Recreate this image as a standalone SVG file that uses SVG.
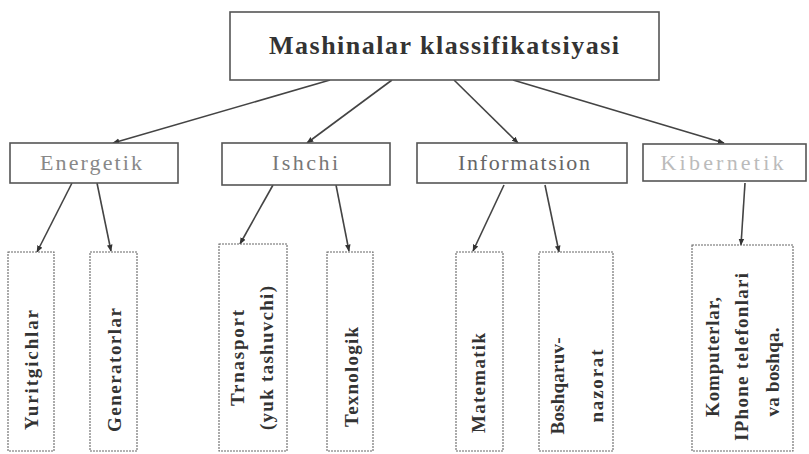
<svg xmlns="http://www.w3.org/2000/svg" width="809" height="454" viewBox="0 0 809 454">
<style>
.bx{fill:#fff;stroke:#555;stroke-width:1.6}
.lf{fill:#fff;stroke:#666;stroke-width:1.1;stroke-dasharray:2 1}
.t{font-family:"Liberation Serif","Times New Roman",serif;text-anchor:middle}
.ttl{font-size:26px;font-weight:bold;fill:#333}
.mid{font-size:22px}
.v{font-size:19px;font-weight:bold;fill:#333}
.c{stroke:#444;stroke-width:1.6;fill:none;marker-end:url(#ah)}
</style>
<defs>
<marker id="ah" viewBox="0 0 10 10" refX="9" refY="5" markerWidth="7" markerHeight="7" orient="auto" markerUnits="userSpaceOnUse">
<path d="M0,1 L10,5 L0,9 z" fill="#333"/>
</marker>
</defs>
<rect width="809" height="454" fill="#fff"/>
<g id="connectors">
<line class="c" x1="330" y1="80" x2="113" y2="143"/>
<line class="c" x1="392" y1="80" x2="307" y2="143"/>
<line class="c" x1="454" y1="80" x2="518" y2="143"/>
<line class="c" x1="513" y1="80" x2="724" y2="143"/>
<line class="c" x1="72" y1="183" x2="37" y2="252"/>
<line class="c" x1="97" y1="183" x2="111" y2="251"/>
<line class="c" x1="273" y1="185" x2="240" y2="244"/>
<line class="c" x1="336" y1="185" x2="349" y2="251"/>
<line class="c" x1="504" y1="185" x2="473" y2="251"/>
<line class="c" x1="545" y1="185" x2="559" y2="252"/>
<line class="c" x1="745" y1="183" x2="741" y2="245"/>
</g>
<g id="root">
<rect class="bx" x="230" y="12" width="429" height="68"/>
<text class="t ttl" x="444" y="54" textLength="350" lengthAdjust="spacing">Mashinalar klassifikatsiyasi</text>
</g>
<g id="energetik">
<rect class="bx" x="10" y="143" width="168" height="40"/>
<text class="t mid" x="91" y="170" fill="#888" textLength="102" lengthAdjust="spacing">Energetik</text>
</g>
<g id="ishchi">
<rect class="bx" x="222" y="143" width="168" height="42"/>
<text class="t mid" x="305" y="170" fill="#777" textLength="66" lengthAdjust="spacing">Ishchi</text>
</g>
<g id="informatsion">
<rect class="bx" x="417" y="143" width="210" height="40"/>
<text class="t mid" x="524" y="170" fill="#666" textLength="132" lengthAdjust="spacing">Informatsion</text>
</g>
<g id="kibernetik">
<rect class="bx" x="643" y="144" width="163" height="37" stroke="#888"/>
<text class="t mid" x="722" y="170" fill="#bbb" textLength="123" lengthAdjust="spacing">Kibernetik</text>
</g>
<g id="yuritgichlar">
<rect class="lf" x="8" y="252" width="46" height="199"/>
<text class="t v" transform="translate(38,370) rotate(-90)" textLength="120" lengthAdjust="spacing">Yuritgichlar</text>
</g>
<g id="generatorlar">
<rect class="lf" x="90" y="252" width="47" height="199"/>
<text class="t v" transform="translate(121,370) rotate(-90)" textLength="124" lengthAdjust="spacing">Generatorlar</text>
</g>
<g id="transport">
<rect class="lf" x="219" y="244" width="68" height="207"/>
<text class="t v" transform="translate(244,358) rotate(-90)" textLength="96" lengthAdjust="spacing">Trnasport</text>
<text class="t v" transform="translate(273,358) rotate(-90)" textLength="144" lengthAdjust="spacing">(yuk tashuvchi)</text>
</g>
<g id="texnologik">
<rect class="lf" x="327" y="252" width="46" height="199"/>
<text class="t v" transform="translate(358,377) rotate(-90)" textLength="100" lengthAdjust="spacing">Texnologik</text>
</g>
<g id="matematik">
<rect class="lf" x="456" y="252" width="47" height="199"/>
<text class="t v" transform="translate(485,383) rotate(-90)" textLength="100" lengthAdjust="spacing">Matematik</text>
</g>
<g id="boshqaruv">
<rect class="lf" x="539" y="252" width="74" height="199"/>
<text class="t v" transform="translate(564,386) rotate(-90)" textLength="97" lengthAdjust="spacing">Boshqaruv-</text>
<text class="t v" transform="translate(603,386) rotate(-90)" textLength="73" lengthAdjust="spacing">nazorat</text>
</g>
<g id="kompyuterlar">
<rect class="lf" x="692" y="245" width="101" height="206"/>
<text class="t v" transform="translate(719,357) rotate(-90)" textLength="120" lengthAdjust="spacing">Komputerlar,</text>
<text class="t v" transform="translate(748,357) rotate(-90)" textLength="168" lengthAdjust="spacing">IPhone telefonlari</text>
<text class="t v" transform="translate(779,372) rotate(-90)" textLength="89" lengthAdjust="spacing">va boshqa.</text>
</g>
</svg>
